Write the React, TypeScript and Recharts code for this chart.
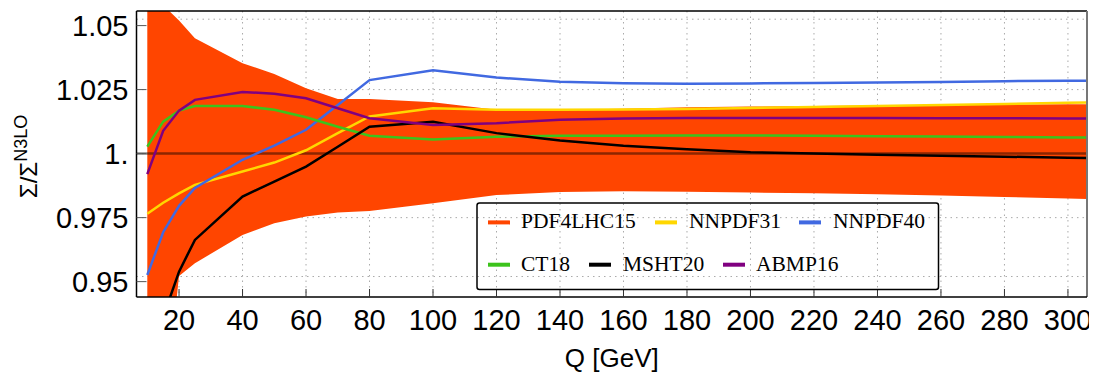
import React from 'react';
import {
  ComposedChart,
  Area,
  Line,
  XAxis,
  YAxis,
  CartesianGrid,
  ReferenceLine,
  Legend,
} from 'recharts';

// Q values [GeV]
const qValues = [10, 15, 20, 25, 40, 50, 60, 70, 80, 100, 120, 140, 160, 180, 200, 220, 240, 260, 280, 300, 306];

// PDF4LHC15 uncertainty band
const pdf4lhc15Low = [0.85, 0.894, 0.9522, 0.9572, 0.9682, 0.9728, 0.9754, 0.977, 0.9776, 0.9806, 0.9838, 0.985, 0.9853, 0.9851, 0.9848, 0.9845, 0.9841, 0.9836, 0.9831, 0.9825, 0.9823];
const pdf4lhc15High = [1.08, 1.058, 1.052, 1.0451, 1.0353, 1.0311, 1.0255, 1.0213, 1.0213, 1.0201, 1.0171, 1.0171, 1.0175, 1.0181, 1.0184, 1.0186, 1.0188, 1.019, 1.0191, 1.0193, 1.0193];

// Central values of the other PDF sets
const nnpdf31 = [0.9765, 0.9808, 0.9845, 0.9878, 0.993, 0.9965, 1.0013, 1.008, 1.0145, 1.0177, 1.0171, 1.0171, 1.0172, 1.0174, 1.0178, 1.0182, 1.0186, 1.019, 1.0194, 1.0199, 1.02];
const nnpdf40 = [0.9526, 0.9693, 0.9796, 0.9866, 0.9976, 1.0031, 1.0093, 1.019, 1.0287, 1.0326, 1.0297, 1.0281, 1.0275, 1.0273, 1.0274, 1.0276, 1.0278, 1.028, 1.0283, 1.0285, 1.0285];
const ct18 = [1.0027, 1.0125, 1.0168, 1.0186, 1.0186, 1.0171, 1.0142, 1.0105, 1.007, 1.0055, 1.0066, 1.007, 1.007, 1.0071, 1.0071, 1.007, 1.0068, 1.0067, 1.0065, 1.0063, 1.0063];
const msht20 = [0.9, 0.9362, 0.9539, 0.9663, 0.9832, 0.9891, 0.9949, 1.0027, 1.0105, 1.0124, 1.008, 1.0051, 1.0031, 1.0017, 1.0005, 1.0, 0.9996, 0.9992, 0.9988, 0.9984, 0.9983];
const abmp16 = [0.992, 1.0089, 1.0168, 1.021, 1.0241, 1.0234, 1.0216, 1.0177, 1.0138, 1.0112, 1.0119, 1.0132, 1.0137, 1.0139, 1.0139, 1.0139, 1.0139, 1.0138, 1.0138, 1.0137, 1.0137];

// Axes
const xTicks = [20, 40, 60, 80, 100, 120, 140, 160, 180, 200, 220, 240, 260, 280, 300];
const yTicks = [0.95, 0.975, 1, 1.025, 1.05];
const yTickLabels = ['0.95', '0.975', '1.', '1.025', '1.05'];
const yGridValues = [0.952, 0.975, 1, 1.025, 1.0525];
const xDomain = [6.6, 306];
const yDomain = [0.944, 1.0557];

// Series names / colours
const seriesNames = ['PDF4LHC15', 'NNPDF31', 'NNPDF40', 'CT18', 'MSHT20', 'ABMP16'];
const seriesColors = ['#ff4500', '#ffd700', '#4169e1', '#3cc31c', '#000000', '#800080'];
const lineSeries = [nnpdf31, nnpdf40, ct18, msht20, abmp16];

const data = qValues.map((q, i) => {
  const row: Record<string, any> = { q, band: [pdf4lhc15Low[i], pdf4lhc15High[i]] };
  lineSeries.forEach((s, k) => {
    row[seriesNames[k + 1]] = s[i];
  });
  return row;
});

const legendRows = [
  [
    { idx: 0, mx: 11, tx: 44 },
    { idx: 1, mx: 178, tx: 212 },
    { idx: 2, mx: 322, tx: 356 },
  ],
  [
    { idx: 3, mx: 11, tx: 44 },
    { idx: 4, mx: 112, tx: 146 },
    { idx: 5, mx: 246, tx: 279 },
  ],
];

const LegendBox = () => (
  <svg width={464} height={89} style={{ display: 'block' }}>
    <rect x={1} y={1} width={461.5} height={86.5} rx={2.5} fill="none" stroke="#000" strokeWidth={1.5} />
    {legendRows.map((row, r) =>
      row.map((it) => (
        <g key={it.idx}>
          <line
            x1={it.mx + 1}
            x2={it.mx + 23}
            y1={r === 0 ? 20.4 : 62.7}
            y2={r === 0 ? 20.4 : 62.7}
            stroke={seriesColors[it.idx]}
            strokeWidth={4}
          />
          <text
            x={it.tx + 1}
            y={r === 0 ? 26 : 68.7}
            fontFamily="'Liberation Serif', 'Times New Roman', serif"
            fontSize={21.5}
            fill="#000"
          >
            {seriesNames[it.idx]}
          </text>
        </g>
      ))
    )}
  </svg>
);

const YLabel = () => (
  <text
    transform="translate(29,148.5) rotate(-90)"
    textAnchor="middle"
    fontFamily="'Liberation Sans', Arial, sans-serif"
    fontSize={24}
    fill="#000"
  >
    <tspan>Σ/Σ</tspan>
    <tspan dy={-10} fontSize={18}>N3LO</tspan>
  </text>
);

const sans = "'Liberation Sans', Arial, sans-serif";

export default function App() {
  return (
    <ComposedChart
      width={1089}
      height={366}
      data={data}
      margin={{ top: 3, right: 10, bottom: 0, left: 0 }}
    >
      <CartesianGrid
        horizontalValues={yGridValues}
        verticalValues={xTicks}
        stroke="#aaa"
        strokeDasharray="1.5 4"
        strokeWidth={1}
      />
      <XAxis
        dataKey="q"
        type="number"
        domain={xDomain}
        allowDataOverflow
        ticks={xTicks}
        interval={0}
        height={77}
        tickSize={-8}
        tickMargin={20.5}
        axisLine={{ stroke: '#000', strokeWidth: 1.5 }}
        tickLine={{ stroke: '#333' }}
        tick={{ fontSize: 29, fill: '#000', fontFamily: sans }}
        label={{ value: 'Q [GeV]', position: 'insideBottom', offset: 7, fontSize: 26, fill: '#000', fontFamily: sans }}
      />
      <YAxis
        type="number"
        domain={yDomain}
        allowDataOverflow
        ticks={yTicks}
        interval={0}
        width={128.5}
        tickSize={-10}
        tickMargin={18}
        tickFormatter={(v: number) => yTickLabels[yTicks.indexOf(v)] ?? String(v)}
        axisLine={{ stroke: '#000', strokeWidth: 1.5 }}
        tickLine={{ stroke: '#555' }}
        tick={{ fontSize: 29, fill: '#000', fontFamily: sans }}
        label={{ content: () => <YLabel /> }}
      />
      <Area
        dataKey="band"
        type="linear"
        stroke="none"
        fill={seriesColors[0]}
        fillOpacity={1}
        isAnimationActive={false}
        name={seriesNames[0]}
      />
      <ReferenceLine y={1} stroke="#000" strokeOpacity={0.45} strokeWidth={2.5} />
      {seriesNames.slice(1).map((name, k) => (
        <Line
          key={name}
          dataKey={name}
          type="linear"
          stroke={seriesColors[k + 1]}
          strokeWidth={2.5}
          dot={false}
          activeDot={false}
          isAnimationActive={false}
        />
      ))}
      <ReferenceLine y={yDomain[1]} stroke="#000" strokeWidth={1.5} />
      <ReferenceLine x={xDomain[1]} stroke="#777" strokeWidth={2} />
      <Legend
        layout="horizontal"
        verticalAlign="middle"
        align="center"
        wrapperStyle={{ left: 468, top: 194, width: 464, height: 89 }}
        content={() => <LegendBox />}
      />
    </ComposedChart>
  );
}
